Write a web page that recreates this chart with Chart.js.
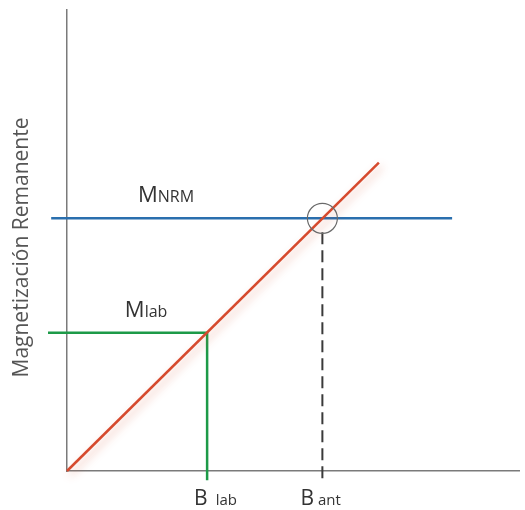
<!DOCTYPE html>
<html>
<head>
<meta charset="utf-8">
<title>Magnetización Remanente</title>
<script src="https://cdn.jsdelivr.net/npm/chart.js@4"></script>
<style>
  html, body { margin: 0; padding: 0; background: #ffffff; }
  #wrap { width: 525px; height: 510px; position: relative; }
</style>
</head>
<body>
<div id="wrap"><canvas id="chart"></canvas></div>
<script>
// Field strengths (x) and remanent magnetizations (y)
const B_lab = 3.1;
const B_ant = 5.65;
const M_lab = 3.0;
const M_NRM = 5.48;

// Linear TRM acquisition line (origin to end point)
const trmX = [0, 6.9];
const trmY = [0, 6.69];

// Horizontal NRM level, from left to right end
const nrmX = [-0.35, 8.52];
// Laboratory reference path: horizontal to the line, then down to the axis
const labX = [-0.42, B_lab, B_lab];
const labY = [M_lab, M_lab, -0.2];
// Dashed drop from the intersection to the axis
const antY = [5.18, -0.26];

// Text labels
const mLabels = [
  { main: 'M', sub: 'NRM', x: 1.57, y: M_NRM },
  { main: 'M', sub: 'lab', x: 1.28, y: M_lab }
];
const bLabels = [
  { main: 'B', sub: 'lab', x: B_lab },
  { main: 'B', sub: 'ant', x: B_ant }
];
const yTitle = 'Magnetización Remanente';

const pts = (xs, ys) => xs.map((x, i) => ({ x, y: ys[i] }));

const FONT = '"Open Sans", "Noto Sans", sans-serif';

// Soft shadow under the TRM line
const lineShadow = {
  id: 'lineShadow',
  beforeDatasetDraw(chart, args) {
    if (args.index !== 0) return;
    const ctx = chart.ctx;
    ctx.save();
    ctx.shadowColor = 'rgba(215, 90, 60, 0.40)';
    ctx.shadowBlur = 9;
    ctx.shadowOffsetX = 3;
    ctx.shadowOffsetY = 4;
  },
  afterDatasetDraw(chart, args) {
    if (args.index !== 0) return;
    chart.ctx.restore();
  }
};

// Draws a big letter followed by a smaller run of text on one baseline
function drawPair(ctx, main, sub, left, y, mainSize, subSize, gap) {
  ctx.textAlign = 'left';
  ctx.textBaseline = 'alphabetic';
  ctx.font = mainSize + 'px ' + FONT;
  const wMain = ctx.measureText(main).width;
  ctx.fillText(main, left, y);
  ctx.font = subSize + 'px ' + FONT;
  ctx.fillText(sub, left + wMain + gap, y);
}

// Horizontal placement of the B labels relative to their field value
const bLabelShift = { lab: -13, ant: -22 };
const bLabelGap = { lab: 8, ant: 4 };

const textLabels = {
  id: 'textLabels',
  afterDatasetsDraw(chart) {
    const { ctx, chartArea, scales: { x, y } } = chart;
    ctx.save();
    ctx.fillStyle = '#333333';
    mLabels.forEach(l => {
      drawPair(ctx, l.main, l.sub, x.getPixelForValue(l.x), y.getPixelForValue(l.y) - 16, 22, 16, 0);
    });
    bLabels.forEach(l => {
      drawPair(ctx, l.main, l.sub, x.getPixelForValue(l.x) + bLabelShift[l.sub],
        chartArea.bottom + 34, 21, 15, bLabelGap[l.sub]);
    });

    // Vertical axis title
    ctx.fillStyle = '#555555';
    ctx.font = '21px ' + FONT;
    ctx.textAlign = 'center';
    ctx.textBaseline = 'middle';
    ctx.translate(22, (chartArea.top + chartArea.bottom) / 2 + 7);
    ctx.rotate(-Math.PI / 2);
    ctx.fillText(yTitle, 0, 0);
    ctx.restore();
  }
};

new Chart(document.getElementById('chart'), {
  type: 'scatter',
  data: {
    datasets: [
      {
        label: 'TRM',
        data: pts(trmX, trmY),
        showLine: true,
        borderColor: '#d64a2e',
        borderWidth: 2.5,
        pointRadius: 0,
        clip: false,
        order: 1
      },
      {
        label: 'NRM',
        data: pts(nrmX, [M_NRM, M_NRM]),
        showLine: true,
        borderColor: '#2a6fae',
        borderWidth: 2.5,
        pointRadius: 0,
        clip: false,
        order: 3
      },
      {
        label: 'lab',
        data: pts(labX, labY),
        showLine: true,
        borderColor: '#1d9a48',
        borderWidth: 2.5,
        pointRadius: 0,
        clip: false,
        order: 3
      },
      {
        label: 'ant',
        data: pts([B_ant, B_ant], antY),
        showLine: true,
        borderColor: '#3a3a3a',
        borderWidth: 2,
        borderDash: [12, 6],
        pointRadius: 0,
        clip: false,
        order: 2
      },
      {
        label: 'cruce',
        data: [{ x: B_ant, y: M_NRM }],
        showLine: false,
        pointRadius: 15,
        pointBorderWidth: 1.2,
        pointBorderColor: '#6a6a6a',
        pointBackgroundColor: 'rgba(0,0,0,0)',
        clip: false,
        order: 0
      }
    ]
  },
  options: {
    responsive: true,
    maintainAspectRatio: false,
    animation: false,
    events: [],
    layout: { autoPadding: false, padding: { top: 10, right: 6, left: 0, bottom: 0 } },
    plugins: {
      legend: { display: false },
      tooltip: { enabled: false }
    },
    scales: {
      x: {
        type: 'linear',
        min: 0,
        max: 10,
        grid: { display: false, drawTicks: false },
        border: { display: true, color: '#7a7a7a', width: 1.5 },
        ticks: { display: false },
        afterFit(scale) { scale.height = 39; }
      },
      y: {
        type: 'linear',
        min: 0,
        max: 10,
        grid: { display: false, drawTicks: false },
        border: { display: true, color: '#7a7a7a', width: 1.5 },
        ticks: { display: false },
        afterFit(scale) { scale.width = 67; }
      }
    }
  },
  plugins: [lineShadow, textLabels]
});
</script>
</body>
</html>
